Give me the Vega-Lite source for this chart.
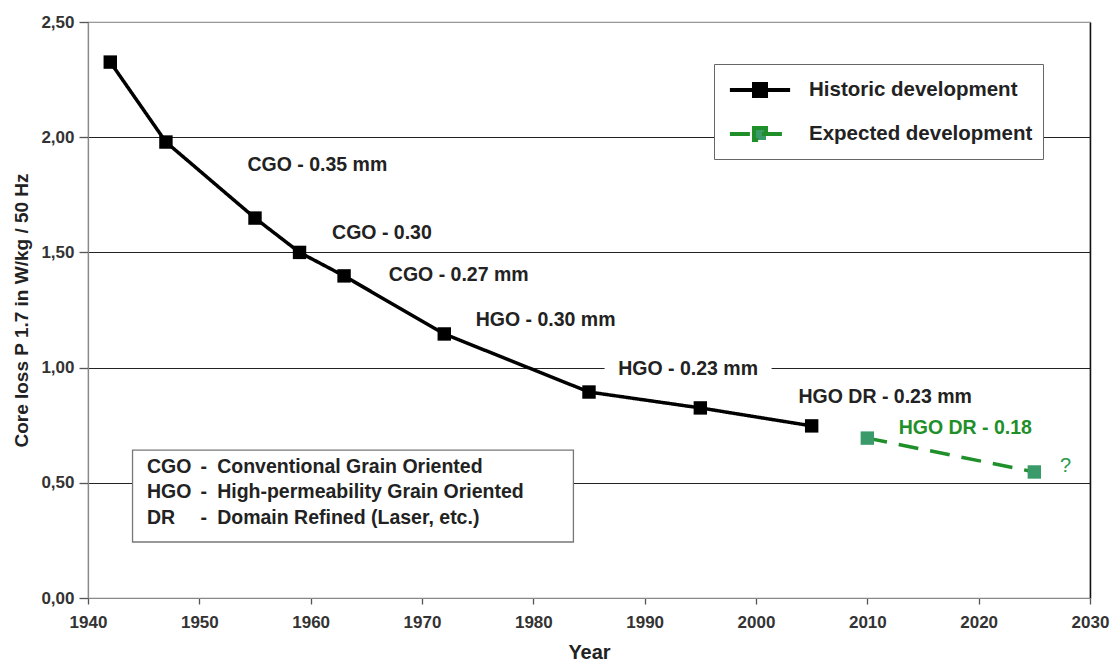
{
  "$schema": "https://vega.github.io/schema/vega-lite/v6.json",
  "width": 1002,
  "height": 576,
  "autosize": "none",
  "padding": {"left": 88, "top": 22, "right": 22, "bottom": 68},
  "background": "white",
  "config": {
    "font": "Liberation Sans",
    "view": {"stroke": "#888", "strokeWidth": 1.2}
  },
  "datasets": {
    "series": [
      {"series": "Historic development", "year": 1942, "value": 2.326},
      {"series": "Historic development", "year": 1947, "value": 1.979},
      {"series": "Historic development", "year": 1955, "value": 1.649},
      {"series": "Historic development", "year": 1959, "value": 1.5},
      {"series": "Historic development", "year": 1963, "value": 1.398},
      {"series": "Historic development", "year": 1972, "value": 1.146},
      {"series": "Historic development", "year": 1985, "value": 0.894},
      {"series": "Historic development", "year": 1995, "value": 0.825},
      {"series": "Historic development", "year": 2005, "value": 0.747},
      {"series": "Expected development", "year": 2010, "value": 0.694},
      {"series": "Expected development", "year": 2025, "value": 0.547}
    ],
    "notes": [
      {"label": "CGO - 0.35 mm", "kind": "historic", "year": 1960.6, "value": 1.88},
      {"label": "CGO - 0.30", "kind": "historic", "year": 1966.4, "value": 1.585},
      {"label": "CGO - 0.27 mm", "kind": "historic", "year": 1973.3, "value": 1.4},
      {"label": "HGO - 0.30 mm", "kind": "historic", "year": 1981.1, "value": 1.207},
      {"label": "HGO - 0.23 mm", "kind": "historic", "year": 1993.9, "value": 0.994},
      {"label": "HGO DR - 0.23 mm", "kind": "historic", "year": 2011.6, "value": 0.872},
      {"label": "HGO DR - 0.18", "kind": "expected", "year": 2018.8, "value": 0.738}
    ],
    "question": [
      {"label": "?", "year": 2027.8, "value": 0.573}
    ],
    "mask": [
      {"year": 1986.4, "year2": 2001.4, "value": 0.965, "value2": 1.035}
    ],
    "box": [
      {"year": 1944.0, "year2": 1983.6, "value": 0.243, "value2": 0.642}
    ],
    "glossary": [
      {"text": "CGO", "year": 1945.3, "value": 0.569},
      {"text": "-", "year": 1950.1, "value": 0.569},
      {"text": "Conventional Grain Oriented", "year": 1951.6, "value": 0.569},
      {"text": "HGO", "year": 1945.3, "value": 0.46},
      {"text": "-", "year": 1950.1, "value": 0.46},
      {"text": "High-permeability Grain Oriented", "year": 1951.6, "value": 0.46},
      {"text": "DR", "year": 1945.3, "value": 0.347},
      {"text": "-", "year": 1950.1, "value": 0.347},
      {"text": "Domain Refined (Laser, etc.)", "year": 1951.6, "value": 0.347}
    ]
  },
  "encoding": {
    "x": {
      "field": "year",
      "type": "quantitative",
      "scale": {"domain": [1940, 2030], "nice": false, "zero": false},
      "axis": {
        "values": [1940, 1950, 1960, 1970, 1980, 1990, 2000, 2010, 2020, 2030],
        "format": "d",
        "title": "Year",
        "titleFontSize": 20,
        "titleFontWeight": "bold",
        "titleColor": "#222",
        "titlePadding": 12,
        "labelFontSize": 17,
        "labelFontWeight": "bold",
        "labelColor": "#333",
        "labelPadding": 10,
        "labelFlush": false,
        "tickColor": "#555",
        "tickSize": 6,
        "tickWidth": 1.3,
        "domainColor": "#888",
        "domainWidth": 1.2,
        "grid": true,
        "gridColor": {"condition": {"test": "datum.value == 2030", "value": "#111"}, "value": "transparent"},
        "gridWidth": 1.5
      }
    },
    "y": {
      "field": "value",
      "type": "quantitative",
      "scale": {"domain": [0, 2.5], "nice": false},
      "axis": {
        "values": [0, 0.5, 1, 1.5, 2, 2.5],
        "labelExpr": "replace(format(datum.value, '.2f'), '.', ',')",
        "title": "Core loss P 1.7 in W/kg / 50 Hz",
        "titleFontSize": 19,
        "titleFontWeight": "bold",
        "titleColor": "#222",
        "titlePadding": 9,
        "labelFontSize": 17,
        "labelFontWeight": "bold",
        "labelColor": "#333",
        "labelPadding": 5,
        "tickColor": "#555",
        "tickSize": 9,
        "tickWidth": 1.3,
        "domainColor": "#888",
        "domainWidth": 1.2,
        "grid": true,
        "gridColor": {"condition": {"test": "datum.value == 0 || datum.value == 2.5", "value": "#999"}, "value": "#222"},
        "gridWidth": 1.1
      }
    }
  },
  "layer": [
    {
      "data": {"name": "mask"},
      "mark": {"type": "rect", "fill": "white"},
      "encoding": {
        "x2": {"field": "year2"},
        "y2": {"field": "value2"}
      }
    },
    {
      "data": {"name": "box"},
      "mark": {"type": "rect", "fill": "white", "stroke": "#777", "strokeWidth": 1.3},
      "encoding": {
        "x2": {"field": "year2"},
        "y2": {"field": "value2"}
      }
    },
    {
      "data": {"name": "glossary"},
      "mark": {"type": "text", "align": "left", "baseline": "middle", "fontSize": 19.5, "fontWeight": "bold", "color": "#222"},
      "encoding": {
        "text": {"field": "text"}
      }
    },
    {
      "data": {"name": "series"},
      "mark": {"type": "line", "strokeWidth": 3.5, "strokeCap": "butt"},
      "encoding": {
        "stroke": {
          "field": "series",
          "type": "nominal",
          "scale": {"domain": ["Historic development", "Expected development"], "range": ["#000000", "#1f8f2a"]},
          "legend": {
            "title": null,
            "orient": "none",
            "legendX": 626,
            "legendY": 42,
            "strokeColor": "#666",
            "fillColor": "white",
            "padding": 10,
            "labelFontSize": 20.5,
            "labelFontWeight": "bold",
            "labelColor": "#222",
            "labelLimit": 400,
            "symbolType": "M-2.15,0H2.15M-0.43,-0.43H0.43V0.43H-0.43Z",
            "symbolSize": 784,
            "symbolStrokeWidth": 4,
            "symbolOffset": 20,
            "labelOffset": 33,
            "rowPadding": 13
          }
        },
        "strokeDash": {
          "field": "series",
          "type": "nominal",
          "scale": {"domain": ["Historic development", "Expected development"], "range": [[1, 0], [20, 12]]},
          "legend": {
            "title": null,
            "orient": "none",
            "legendX": 626,
            "legendY": 42,
            "strokeColor": "#666",
            "fillColor": "white",
            "padding": 10,
            "labelFontSize": 20.5,
            "labelFontWeight": "bold",
            "labelColor": "#222",
            "labelLimit": 400,
            "symbolType": "M-2.15,0H2.15M-0.43,-0.43H0.43V0.43H-0.43Z",
            "symbolSize": 784,
            "symbolStrokeWidth": 4,
            "symbolOffset": 20,
            "labelOffset": 33,
            "rowPadding": 13
          }
        },
        "detail": {"field": "series"}
      }
    },
    {
      "data": {"name": "series"},
      "mark": {"type": "point", "shape": "square", "filled": true, "size": 180, "opacity": 1, "strokeWidth": 0},
      "encoding": {
        "fill": {
          "field": "series",
          "type": "nominal",
          "scale": {"domain": ["Historic development", "Expected development"], "range": ["#000000", "#3a9a6a"]},
          "legend": null
        }
      }
    },
    {
      "data": {"name": "notes"},
      "mark": {"type": "text", "align": "center", "baseline": "middle", "fontSize": 19.5, "fontWeight": "bold"},
      "encoding": {
        "text": {"field": "label"},
        "color": {
          "field": "kind",
          "type": "nominal",
          "scale": {"domain": ["historic", "expected"], "range": ["#222222", "#1f8f2a"]},
          "legend": null
        }
      }
    },
    {
      "data": {"name": "question"},
      "mark": {"type": "text", "align": "center", "baseline": "middle", "fontSize": 20, "color": "#2a9a4a"},
      "encoding": {
        "text": {"field": "label"}
      }
    }
  ]
}
